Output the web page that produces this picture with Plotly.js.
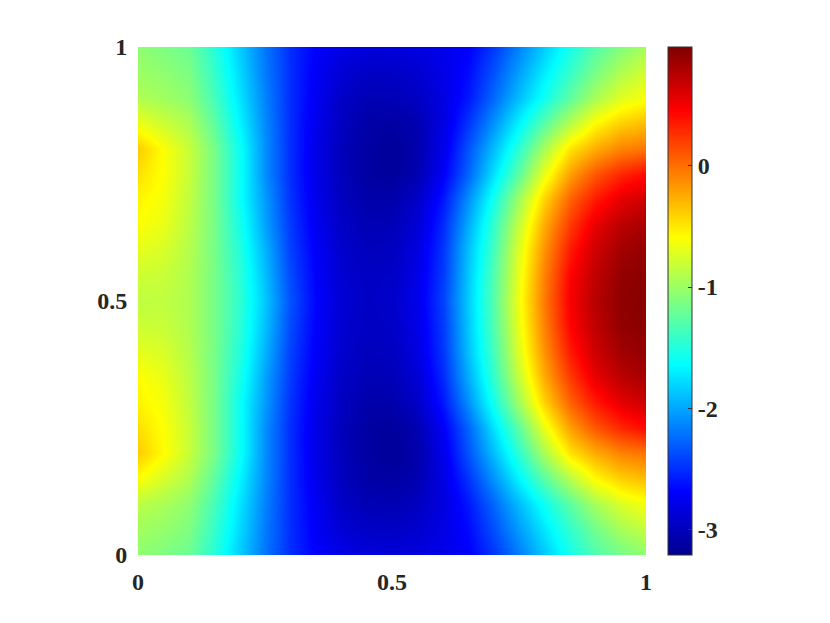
<!DOCTYPE html>
<html>
<head>
<meta charset="utf-8">
<script src="https://cdn.plot.ly/plotly-3.0.1.min.js"></script>
<style>
  html, body { margin: 0; padding: 0; background: #fff; }
</style>
</head>
<body>
<div id="grafico" style="width:830px;height:623px"></div>
<script>
// grid positions
const xs = [0, .05, .1, .15, .2, .25, .3, .35, .4, .45, .5, .55, .6, .65, .7, .75, .8, .85, .9, .95, 1];
const ys = [0, .05, .1, .15, .2, .25, .3, .35, .4, .45, .5, .55, .6, .65, .7, .75, .8, .85, .9, .95, 1];

// values, one row per y, bottom to top
const y000 = [-1.05,-1.12,-1.2,-1.48,-1.85,-2.2,-2.5,-2.7,-2.8,-2.85,-2.86,-2.84,-2.79,-2.71,-2.47,-2.17,-1.87,-1.56,-1.32,-1.16,-1.05];
const y005 = [-.98,-1.03,-1.12,-1.42,-1.8,-2.18,-2.5,-2.73,-2.88,-2.95,-2.96,-2.91,-2.81,-2.66,-2.36,-2.05,-1.74,-1.44,-1.18,-.96,-.84];
const y010 = [-.87,-.94,-1.05,-1.35,-1.75,-2.15,-2.5,-2.75,-2.95,-3.03,-3.04,-2.98,-2.83,-2.6,-2.26,-1.91,-1.59,-1.26,-.96,-.74,-.63];
const y015 = [-.6,-.76,-.92,-1.25,-1.68,-2.12,-2.5,-2.78,-2.98,-3.1,-3.12,-3.05,-2.82,-2.48,-2.08,-1.68,-1.28,-.9,-.58,-.4,-.32];
const y020 = [-.38,-.58,-.82,-1.15,-1.6,-2.1,-2.5,-2.8,-3.0,-3.12,-3.16,-3.08,-2.78,-2.35,-1.9,-1.45,-.95,-.48,-.25,-.08,-.02];
const y025 = [-.46,-.6,-.82,-1.15,-1.6,-2.1,-2.5,-2.8,-3.0,-3.12,-3.15,-3.05,-2.72,-2.28,-1.75,-1.25,-.68,-.2,.1,.3,.42];
const y030 = [-.54,-.63,-.85,-1.15,-1.6,-2.05,-2.48,-2.78,-2.98,-3.08,-3.08,-2.95,-2.6,-2.1,-1.55,-.98,-.42,.05,.35,.56,.66];
const y035 = [-.59,-.68,-.87,-1.15,-1.55,-2.02,-2.45,-2.75,-2.95,-3.03,-3.02,-2.88,-2.52,-1.98,-1.42,-.82,-.25,.22,.55,.74,.82];
const y040 = [-.7,-.75,-.9,-1.15,-1.5,-1.95,-2.42,-2.72,-2.92,-3.0,-2.98,-2.83,-2.47,-1.9,-1.35,-.72,-.15,.35,.66,.84,.9];
const y045 = [-.8,-.82,-.92,-1.15,-1.47,-1.9,-2.38,-2.7,-2.9,-2.97,-2.95,-2.8,-2.45,-1.87,-1.3,-.67,-.08,.45,.72,.9,.94];
const y050 = [-.85,-.85,-.92,-1.15,-1.45,-1.87,-2.35,-2.68,-2.88,-2.96,-2.93,-2.78,-2.42,-1.85,-1.28,-.64,-.05,.48,.75,.92,.95];
const y055 = [-.8,-.82,-.92,-1.15,-1.47,-1.9,-2.38,-2.7,-2.9,-2.97,-2.95,-2.8,-2.45,-1.87,-1.3,-.67,-.08,.45,.72,.9,.94];
const y060 = [-.7,-.75,-.9,-1.15,-1.5,-1.95,-2.42,-2.72,-2.92,-3.0,-2.98,-2.83,-2.47,-1.9,-1.35,-.72,-.15,.35,.66,.84,.9];
const y065 = [-.6,-.68,-.87,-1.15,-1.55,-2.02,-2.45,-2.75,-2.95,-3.03,-3.02,-2.88,-2.52,-1.98,-1.42,-.82,-.25,.22,.55,.74,.82];
const y070 = [-.55,-.63,-.85,-1.15,-1.6,-2.05,-2.48,-2.78,-2.98,-3.08,-3.08,-2.95,-2.6,-2.1,-1.55,-.98,-.42,.05,.35,.56,.66];
const y075 = [-.47,-.6,-.82,-1.15,-1.6,-2.1,-2.5,-2.8,-3.0,-3.12,-3.15,-3.05,-2.72,-2.28,-1.75,-1.25,-.68,-.2,.1,.3,.42];
const y080 = [-.38,-.6,-.82,-1.15,-1.6,-2.1,-2.5,-2.8,-3.0,-3.12,-3.16,-3.08,-2.78,-2.35,-1.9,-1.45,-.95,-.48,-.25,-.08,-.02];
const y085 = [-.67,-.8,-.93,-1.25,-1.68,-2.12,-2.5,-2.78,-2.98,-3.1,-3.12,-3.05,-2.82,-2.48,-2.08,-1.68,-1.28,-.9,-.58,-.4,-.32];
const y090 = [-.92,-.98,-1.06,-1.35,-1.75,-2.15,-2.5,-2.75,-2.95,-3.03,-3.03,-2.97,-2.82,-2.6,-2.25,-1.9,-1.58,-1.25,-.95,-.72,-.62];
const y095 = [-1.0,-1.05,-1.13,-1.42,-1.8,-2.18,-2.5,-2.73,-2.88,-2.95,-2.95,-2.9,-2.8,-2.65,-2.35,-2.03,-1.72,-1.42,-1.15,-.92,-.78];
const y100 = [-1.05,-1.12,-1.2,-1.48,-1.85,-2.2,-2.5,-2.7,-2.8,-2.85,-2.85,-2.83,-2.78,-2.7,-2.45,-2.15,-1.85,-1.55,-1.3,-1.1,-.95];

const zLinhas = [y000,y005,y010,y015,y020,y025,y030,y035,y040,y045,y050,y055,y060,y065,y070,y075,y080,y085,y090,y095,y100];

// tick labels
const eixoVals = [0, 0.5, 1];
const eixoText = ['0', '0.5', '1'];
const barraVals = [-3, -2, -1, 0];
const barraText = ['-3', '-2', '-1', '0'];

// matlab jet
const jet = [
  [0, '#00008f'], [0.125, '#0000ff'], [0.375, '#00ffff'],
  [0.625, '#ffff00'], [0.875, '#ff0000'], [1, '#800000']
];

const fonte = {family: '"Liberation Serif", serif', size: 24, color: '#262626', weight: 'bold'};

const data = [{
  type: 'heatmap',
  x: xs,
  y: ys,
  z: zLinhas,
  zmin: -3.21,
  zmax: 0.98,
  zsmooth: 'best',
  colorscale: jet,
  hoverinfo: 'skip',
  colorbar: {
    x: 1.0433,
    xanchor: 'left',
    xpad: 0,
    ypad: 0,
    y: 0.5,
    yanchor: 'middle',
    len: 1,
    thickness: 24,
    outlinecolor: '#333',
    outlinewidth: 1,
    ticks: 'inside',
    ticklen: 4,
    tickcolor: '#333',
    tickmode: 'array',
    tickvals: barraVals,
    ticktext: barraText,
    tickfont: fonte
  }
}];

function eixo() {
  return {
    range: [0, 1],
    tickmode: 'array',
    tickvals: eixoVals,
    ticktext: eixoText,
    tickfont: fonte,
    ticks: 'outside',
    ticklen: 5,
    tickcolor: 'rgba(0,0,0,0)',
    showgrid: false,
    zeroline: false,
    showline: false
  };
}

const layout = {
  width: 830,
  height: 623,
  margin: {l: 138, r: 184, t: 47, b: 68},
  paper_bgcolor: '#fff',
  plot_bgcolor: '#fff',
  xaxis: eixo(),
  yaxis: eixo()
};

Plotly.newPlot('grafico', data, layout, {displayModeBar: false, staticPlot: true});
</script>
</body>
</html>
